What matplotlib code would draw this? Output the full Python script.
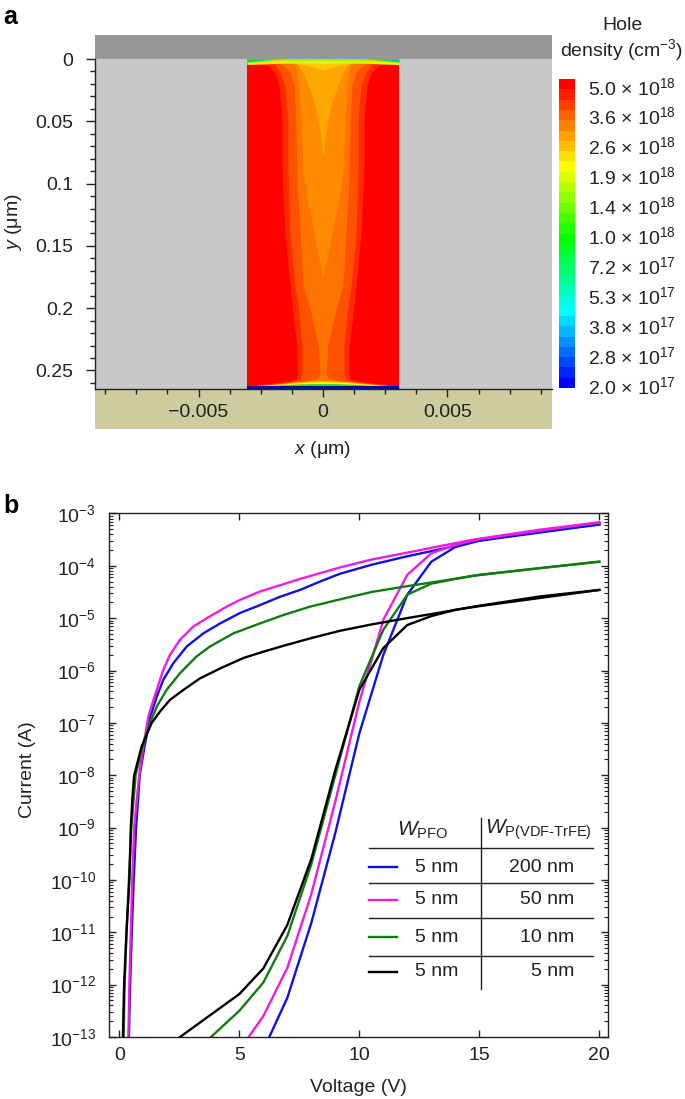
"""Hole density map (a) and I-V sweeps (b) for the PFO / P(VDF-TrFE) diode."""
import numpy as np
import matplotlib
matplotlib.use("Agg")
import matplotlib.pyplot as plt
from matplotlib.colors import LinearSegmentedColormap
from matplotlib.lines import Line2D
from matplotlib.ticker import FixedLocator, NullFormatter

plt.rcParams["font.family"] = ["Liberation Sans", "DejaVu Sans"]
plt.rcParams["mathtext.fontset"] = "custom"
plt.rcParams["mathtext.rm"] = "Liberation Sans"
plt.rcParams["mathtext.it"] = "Liberation Sans:italic"
plt.rcParams["mathtext.bf"] = "Liberation Sans:bold"
plt.rcParams["mathtext.default"] = "rm"
plt.rcParams["font.size"] = 14

W, H = 685, 1099
INK = "#222222"

# ---- panel a: contour band outlines, half width (nm) against depth y (um) ----
DEVICE_HALF = 3.055
DEVICE_DEPTH = 0.2646

band1_y = [0.0, 0.0024, 0.0048, 0.0112, 0.0209, 0.0482, 0.0851, 0.1388, 0.1814, 0.2039, 0.2311, 0.2520, 0.2568, 0.2592, 0.2608, 0.2636]
band1_w = [3.055, 2.81, 2.25, 1.93, 1.77, 1.65, 1.65, 1.53, 1.33, 1.21, 1.05, 1.03, 1.09, 1.61, 2.41, 3.055]
band2_y = [0.0, 0.0048, 0.0104, 0.0209, 0.0482, 0.0907, 0.1388, 0.1814, 0.2039, 0.2311, 0.2520, 0.2568, 0.2592, 0.2608, 0.2636]
band2_w = [2.41, 1.93, 1.73, 1.53, 1.41, 1.41, 1.33, 1.13, 0.96, 0.84, 0.84, 0.92, 1.29, 2.01, 2.81]
band3_y = [0.0, 0.0032, 0.0048, 0.0104, 0.0209, 0.0482, 0.0907, 0.1116, 0.1388, 0.1814, 0.2039, 0.2311, 0.2520, 0.2560, 0.2592, 0.2608, 0.2636]
band3_w = [2.01, 1.81, 1.61, 1.33, 1.17, 1.09, 1.05, 1.01, 0.92, 0.80, 0.48, 0.18, 0.12, 0.20, 0.80, 1.61, 2.41]
band4_y = [0.0, 0.0032, 0.0048, 0.0104, 0.0209, 0.0482, 0.0907, 0.1116, 0.1276, 0.1517, 0.1758]
band4_w = [1.41, 1.21, 1.13, 1.05, 0.96, 0.88, 0.80, 0.64, 0.48, 0.24, 0.0]
band5_y = [0.0, 0.0024, 0.0048, 0.0104, 0.0209, 0.0345, 0.0479, 0.0612, 0.0803]
band5_w = [1.33, 1.21, 1.01, 0.80, 0.60, 0.36, 0.20, 0.09, 0.0]
band6_y = [0.0, 0.0024, 0.0032, 0.0056, 0.0088]
band6_w = [1.61, 1.41, 1.13, 0.56, 0.0]

band_colors = ["#FF2A00", "#FF5200", "#FF7400", "#FF8C00", "#FFA800", "#FFC800"]

# thin skin layers at the top contact (depth at each half width)
top_w = [3.055, 2.4, 1.8, 1.0, 0.0]
top_yellow = [0.0044, 0.0040, 0.0034, 0.0032, 0.0034]
top_lime = [0.0030, 0.0020, 0.0014, 0.0012, 0.0012]
top_green = [0.0022, 0.0010, 0.0, 0.0, 0.0]

# dome of low density at the bottom contact
dome_w = [3.055, 2.4, 1.8, 1.2, 0.5, 0.0]
dome_gold = [0.2624, 0.2618, 0.2606, 0.2594, 0.2583, 0.2580]
dome_yellow = [0.2624, 0.2622, 0.2612, 0.2602, 0.2594, 0.2592]
dome_green = [0.2624, 0.2624, 0.2617, 0.2610, 0.2605, 0.2604]
dome_cyan = [0.2624, 0.2624, 0.2621, 0.2618, 0.2616, 0.2616]
dome_blue = [0.2624, 0.2624, 0.2624, 0.2624, 0.2624, 0.2624]

cbar_labels = ["5.0", "3.6", "2.6", "1.9", "1.4", "1.0", "7.2", "5.3", "3.8", "2.8", "2.0"]
cbar_exps = [18, 18, 18, 18, 18, 18, 17, 17, 17, 17, 17]

# ---- panel b: V (volts) and log10 current (A); each device has two branches ----
blue_up_v = [0.4, 0.45, 0.52, 0.6, 0.7, 0.85, 1.05, 1.29, 1.56, 1.83, 2.25, 2.81, 3.5, 4.2, 5.03, 5.86, 6.7, 7.53, 8.36, 9.2, 10.5, 11.97, 13.4, 14.75, 17.5, 20]
blue_up_i = [-13, -12, -11, -10, -9, -8, -7.45, -6.88, -6.5, -6.18, -5.86, -5.54, -5.29, -5.1, -4.9, -4.75, -4.59, -4.46, -4.3, -4.15, -3.98, -3.82, -3.68, -3.535, -3.344, -3.21]
blue_dn_v = [6.25, 7, 8, 9, 10, 11, 12, 13, 14, 15, 20]
blue_dn_i = [-13, -12.25, -10.82, -9.1, -7.2, -5.7, -4.55, -3.92, -3.64, -3.52, -3.21]

magenta_up_v = [0.38, 0.42, 0.48, 0.54, 0.62, 0.72, 0.83, 1.0, 1.21, 1.38, 1.56, 1.83, 2.11, 2.53, 3.08, 3.64, 4.47, 5.03, 5.86, 6.56, 7.53, 8.36, 9.2, 10.5, 11.97, 13.4, 14.75, 17.5, 20]
magenta_up_i = [-13, -12, -11, -10, -9, -8.5, -8, -7.45, -6.88, -6.62, -6.37, -5.99, -5.7, -5.41, -5.16, -5.0, -4.78, -4.65, -4.49, -4.39, -4.25, -4.14, -4.03, -3.88, -3.75, -3.62, -3.5, -3.31, -3.17]
magenta_dn_v = [5.39, 6, 7, 8, 9, 10, 11, 12, 13, 14, 15, 20]
magenta_dn_i = [-13, -12.6, -11.68, -10.27, -8.5, -6.6, -5.03, -4.17, -3.76, -3.6, -3.49, -3.17]

green_up_v = [0.18, 0.22, 0.3, 0.4, 0.5, 0.68, 1.0, 1.28, 1.56, 1.97, 2.53, 3.22, 3.78, 4.75, 5.86, 6.83, 7.94, 9.2, 10.5, 11.97, 13.4, 14.75, 17.5, 20]
green_up_i = [-13, -12, -11, -10, -9, -8, -7.4, -7, -6.69, -6.37, -6.05, -5.73, -5.54, -5.29, -5.1, -4.94, -4.78, -4.64, -4.5, -4.39, -4.29, -4.19, -4.045, -3.92]
green_dn_v = [3.82, 5, 6, 7, 8, 9, 10, 11, 12, 13, 14, 15, 20]
green_dn_i = [-13, -12.5, -11.96, -11.07, -9.7, -8, -6.3, -5.22, -4.55, -4.34, -4.25, -4.17, -3.92]

black_up_v = [0.15, 0.2, 0.3, 0.42, 0.48, 0.55, 0.62, 0.93, 1.35, 1.7, 2.11, 2.67, 3.36, 4.2, 5.17, 6, 6.97, 8.08, 9.2, 10.5, 11.97, 13.4, 14.75, 17.5, 20]
black_up_i = [-13, -12, -11, -10, -9, -8.4, -8, -7.45, -7, -6.78, -6.56, -6.37, -6.15, -5.96, -5.76, -5.64, -5.51, -5.37, -5.24, -5.12, -5, -4.89, -4.78, -4.586, -4.46]
black_dn_v = [2.53, 5, 6, 7, 8, 9, 10, 11, 12, 13, 14, 15, 20]
black_dn_i = [-13, -12.18, -11.69, -10.86, -9.6, -7.9, -6.37, -5.57, -5.13, -4.96, -4.84, -4.77, -4.46]

BLUE, MAGENTA, GREEN, BLACK = "#1010E6", "#F01CE0", "#127A12", "#000000"

table_wpfo = ["5 nm", "5 nm", "5 nm", "5 nm"]
table_wfe = ["200 nm", "50 nm", "10 nm", "5 nm"]
table_colors = [BLUE, MAGENTA, GREEN, BLACK]


def axes_px(fig, left, top, right, bottom):
    """Axes placed by image pixels (origin top left)."""
    return fig.add_axes([left / W, 1 - bottom / H, (right - left) / W, (bottom - top) / H])


def fx(x):
    return x / W


def fy(y):
    return 1 - y / H


fig = plt.figure(figsize=(W / 100, H / 100), dpi=100)
fig.patch.set_facecolor("white")

# ================================================================= panel a =====
ax = axes_px(fig, 95, 34.5, 552, 429)
ax.set_xlim(-9.157e-3, 9.197e-3)
ax.set_ylim(0.297, -0.0197)
ax.set_facecolor("white")
ax.axhspan(-0.0197, 0, color="#979797", lw=0, zorder=1)
ax.axhspan(0, DEVICE_DEPTH, color="#C8C8C8", lw=0, zorder=1)
ax.axhspan(DEVICE_DEPTH, 0.297, color="#CCCC9E", lw=0, zorder=1)
ax.fill_betweenx([0, DEVICE_DEPTH], -DEVICE_HALF * 1e-3, DEVICE_HALF * 1e-3, color="#FF0000", lw=0, zorder=2)


def fill_band(y, w, color, z):
    half = np.array(w) * 1e-3
    ax.fill_betweenx(y, -half, half, color=color, lw=0, zorder=z)


bands = [(band1_y, band1_w), (band2_y, band2_w), (band3_y, band3_w),
         (band4_y, band4_w), (band5_y, band5_w), (band6_y, band6_w)]
for i, (by, bw) in enumerate(bands):
    fill_band(by, bw, band_colors[i], 3 + i)


def fill_skin(w, y0, y1, color, z):
    half = np.array(w) * 1e-3
    xx = np.concatenate([-half, half[::-1]])
    if np.ndim(y0) == 0:
        y0 = [y0] * len(w)
    if np.ndim(y1) == 0:
        y1 = [y1] * len(w)
    ax.fill_between(xx, np.concatenate([y0, y0[::-1]]), np.concatenate([y1, y1[::-1]]),
                    color=color, lw=0, zorder=z)


fill_skin(top_w, 0.0, top_yellow, "#F4F000", 10)
fill_skin(top_w, 0.0, top_lime, "#A8F000", 11)
fill_skin(top_w, 0.0, top_green, "#00D860", 12)
fill_skin(dome_w, dome_gold, DEVICE_DEPTH, "#FFC000", 10)
fill_skin(dome_w, dome_yellow, DEVICE_DEPTH, "#FFFF00", 11)
fill_skin(dome_w, dome_green, DEVICE_DEPTH, "#30E820", 12)
fill_skin(dome_w, dome_cyan, DEVICE_DEPTH, "#00B8F0", 13)
fill_skin(dome_w, dome_blue, DEVICE_DEPTH, "#0808A8", 14)

for s in ("top", "right"):
    ax.spines[s].set_visible(False)
ax.spines["left"].set_bounds(0, DEVICE_DEPTH)
ax.spines["bottom"].set_position(("data", DEVICE_DEPTH))
for s in ("left", "bottom"):
    ax.spines[s].set_linewidth(1.0)
    ax.spines[s].set_color(INK)
    ax.spines[s].set_zorder(20)

ax.yaxis.set_major_locator(FixedLocator([0, 0.05, 0.1, 0.15, 0.2, 0.25]))
ax.yaxis.set_minor_locator(FixedLocator(np.arange(0, 27) * 0.01))
ax.set_yticklabels(["0", "0.05", "0.1", "0.15", "0.2", "0.25"])
ax.xaxis.set_major_locator(FixedLocator([-0.005, 0, 0.005]))
ax.xaxis.set_minor_locator(FixedLocator(np.arange(-7, 8) * 0.00125))
ax.set_xticklabels(["\u22120.005", "0", "0.005"])
ax.tick_params(axis="y", which="major", length=6.5, width=1.0, pad=9, color=INK, labelsize=14)
ax.tick_params(axis="y", which="minor", length=3.6, width=1.0, color=INK)
ax.tick_params(axis="x", which="major", length=6, width=1.0, pad=5, color=INK, labelsize=14, zorder=20)
ax.tick_params(axis="x", which="minor", length=3.6, width=1.0, color=INK, zorder=20)
for t in ax.get_xticklabels() + ax.get_yticklabels():
    t.set_color(INK)

fig.text(fx(323), fy(450), r"$\mathit{x}$ ($\mathrm{\mu}$m)", ha="center", va="center", color=INK, fontsize=14)
fig.text(fx(14), fy(222), r"$\mathit{y}$ ($\mathrm{\mu}$m)", ha="center", va="center", rotation=90, color=INK, fontsize=14)
fig.text(fx(3), fy(24), "a", fontsize=18, fontweight="bold", color="black")

# colour bar: 30 flat steps, blue at the bottom
jetlike = LinearSegmentedColormap.from_list(
    "hole", [(0, "#0000FF"), (7 / 29, "#00FFFF"), (14 / 29, "#00FF00"), (21 / 29, "#FFFF00"), (1, "#FF0000")], N=30)
cax = axes_px(fig, 559, 79, 574.5, 388)
cax.imshow(np.arange(30)[:, None], origin="lower", aspect="auto", cmap=jetlike, extent=(0, 1, 0, 30))
for s in cax.spines.values():
    s.set_visible(False)
cax.set_xticks([])
cax.yaxis.tick_right()
cax.set_yticks(np.linspace(29.35, 0.3, len(cbar_labels)))
cax.set_yticklabels([f"{v} \u00d7 10$^{{{e}}}$" for v, e in zip(cbar_labels, cbar_exps)], color=INK, fontsize=14)
cax.tick_params(axis="y", length=0, pad=9.5)

fig.text(fx(623), fy(25), "Hole", ha="center", va="center", color=INK, fontsize=14)
fig.text(fx(622), fy(50), "density (cm$^{\u22123}$)", ha="center", va="center", color=INK, fontsize=14)

# ================================================================= panel b =====
bx = axes_px(fig, 108.5, 513.5, 608, 1037)
bx.set_xlim(-0.45, 20.36)
bx.set_yscale("log")
bx.set_ylim(1e-13, 1e-3)

curves = [(blue_up_v, blue_up_i, BLUE), (blue_dn_v, blue_dn_i, BLUE),
          (magenta_up_v, magenta_up_i, MAGENTA), (magenta_dn_v, magenta_dn_i, MAGENTA),
          (green_up_v, green_up_i, GREEN), (green_dn_v, green_dn_i, GREEN),
          (black_up_v, black_up_i, BLACK), (black_dn_v, black_dn_i, BLACK)]
for v, logi, c in curves:
    bx.plot(v, 10.0 ** np.array(logi), color=c, lw=1.7, solid_joinstyle="round")

decades = [10.0 ** e for e in range(-13, -2)]
minors = [m * d for d in decades[:-1] for m in range(2, 10)]
bx.set_xticks([0, 5, 10, 15, 20])
bx.yaxis.set_major_locator(FixedLocator(decades))
bx.yaxis.set_minor_locator(FixedLocator(minors))
bx.yaxis.set_minor_formatter(NullFormatter())
bx.tick_params(axis="both", which="major", direction="in", top=True, right=True, length=5, width=1.0,
               color=INK, labelcolor=INK, labelsize=14)
bx.tick_params(axis="x", pad=7)
bx.tick_params(axis="y", which="major", pad=9)
bx.tick_params(axis="y", which="minor", direction="in", right=True, length=3, width=0.8, color=INK)
for s in bx.spines.values():
    s.set_linewidth(1.0)
    s.set_color(INK)

fig.text(fx(358), fy(1087), "Voltage (V)", ha="center", va="center", color=INK, fontsize=14)
fig.text(fx(27), fy(770), "Current (A)", ha="center", va="center", rotation=90, color=INK, fontsize=14)
fig.text(fx(3), fy(513), "b", fontsize=18, fontweight="bold", color="black")

# small table inside the plot, drawn on the figure
rule_y = [848, 883, 918, 956]
swatch_y = [867, 900, 937, 972]
for ry in rule_y:
    fig.add_artist(Line2D([fx(369), fx(593)], [fy(ry), fy(ry)], color=INK, lw=1.0))
fig.add_artist(Line2D([fx(481), fx(481)], [fy(818), fy(989)], color=INK, lw=1.0))
for sy, c, a, b in zip(swatch_y, table_colors, table_wpfo, table_wfe):
    fig.add_artist(Line2D([fx(369), fx(397)], [fy(sy), fy(sy)], color=c, lw=1.7))
    fig.text(fx(437), fy(sy), a, ha="center", va="center", color=INK, fontsize=14)
    fig.text(fx(574), fy(sy), b, ha="right", va="center", color=INK, fontsize=14)
fig.text(fx(423), fy(830), r"$\mathit{W}_{\mathrm{PFO}}$", ha="center", va="center", color=INK, fontsize=15)
fig.text(fx(538), fy(830), r"$\mathit{W}_{\mathrm{P(VDF\text{-}TrFE)}}$", ha="center", va="center", color=INK, fontsize=15)

fig.savefig("out.png", dpi=100, facecolor="white")
